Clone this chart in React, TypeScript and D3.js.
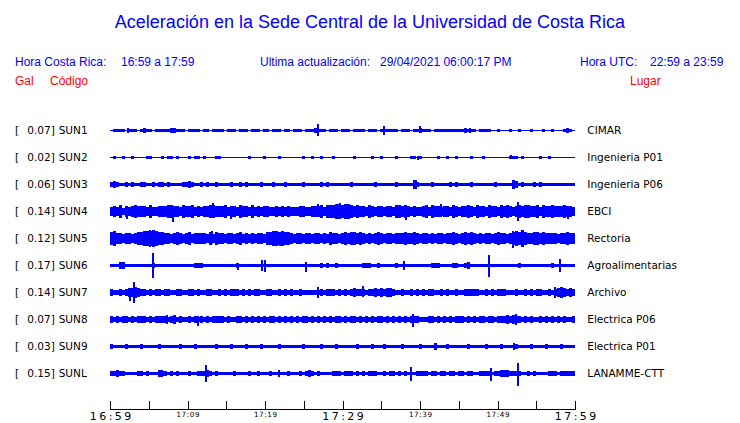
import React from "react";
import * as d3 from "d3";

// ---- data ----
const TITLE = "Aceleración en la Sede Central de la Universidad de Costa Rica";
const CODES = ["SUN1", "SUN2", "SUN3", "SUN4", "SUN5", "SUN6", "SUN7", "SUN8", "SUN9", "SUNL"];
const PLACES = ["CIMAR", "Ingenieria P01", "Ingenieria P06", "EBCI", "Rectoria", "Agroalimentarias", "Archivo", "Electrica P06", "Electrica P01", "LANAMME-CTT"];
const PEAKS = ["0.07", "0.02", "0.06", "0.14", "0.12", "0.17", "0.14", "0.07", "0.03", "0.15"];

// envelope half-amplitude (px units of trace) per time slice across 60 minutes
const ENVELOPES = [
  "0111101110121101111122111011110" + "1101111011101110111011011101101" + "1101112111011101110111101110111" + "1110111011211101111111111211101" + "1110010001001000100010010001210",
  "0100100100001100010110100010110" + "1000110000000001000010000100000" + "0010010010001000000100000100100" + "0010000110100000100100100001000" + "1000000001110100000100100000000",
  "2321121211221121221211112232112" + "1211211112112121111211121112111" + "1121111121211111112111111121111" + "1121111142111121111121211112111" + "1111211111431211121211111111111",
  "4546354565554644555665546556454" + "5566555645546554645455445454544" + "4554455564666776776565546545545" + "5466565454456465545546545565465" + "5465546565456566556465565556554",
  "6755455456677787665545654564555" + "5464655455456454545546677676654" + "5545545545465545656656545456545" + "5455565565455454554556545656545" + "4554565545676865566565555455655",
  "1113311111111121111111111111222" + "1111111111121111111111111111111" + "1111111121211211111111222112111" + "1121111111111122211112211231111" + "1111111111112111111111121111111",
  "3223234454332323323322332233232" + "2332232323332323233223322323232" + "2322222232333232323433323343434" + "4322322323232332232322322333332" + "2323233322232232323322323454343",
  "3232332323332323333234232232323" + "2323333232233232323232332323232" + "3233232323232332323323232323323" + "2323232333222332323232333232323" + "3233233343433232322323232323223",
  "2111121111211111211111121111211" + "1111211112111121111211111211111" + "1121111121111211111121111211121" + "1111211111211113111211111121111" + "1211112111121111211112111121111",
  "2232211112212111322121211121122" + "2321211111211112112111211111211" + "1212321211112221222121212221121" + "2212121112222122122122122122112" + "2221223332222112121111222122222",
];

// isolated peaks: [minute, up, down]
const SPIKES: number[][][] = [
  [[2.3, 2, 2], [26.8, 6, 5], [35.4, 4, 4], [40.0, 4, 2], [46.5, 2, 2]],
  [[4.8, 1, 1], [39.8, 1, 2], [51.8, 2, 1]],
  [[39.5, 4, 4], [52.0, 4, 4]],
  [[2.15, 4, 7], [8.09, 5, 10], [13.29, 8, 5], [15.6, 5, 7], [26.8, 7, 5], [29.7, 8, 6], [30.8, 7, 7], [38.15, 5, 8], [42.7, 7, 5], [52.6, 9, 9], [59.1, 5, 7]],
  [[5.16, 8, 8], [13.16, 7, 5], [21.9, 6, 7], [31.35, 6, 6], [52.0, 7, 9]],
  [[1.42, 3, 3], [5.59, 12, 12], [16.5, 2, 4], [19.6, 5, 5], [20.0, 5, 6], [25.3, 3, 6], [37.9, 4, 4], [48.9, 10, 11], [58.0, 6, 6]],
  [[2.58, 4, 8], [3.14, 10, 10], [26.8, 5, 5], [32.6, 6, 4], [57.4, 5, 5]],
  [[7.35, 4, 4], [11.35, 3, 6], [39.1, 5, 7], [52.4, 5, 5]],
  [[52.1, 3, 3]],
  [[6.7, 3, 3], [12.45, 8, 8], [21.8, 3, 3], [38.9, 6, 7], [49.2, 5, 7], [52.6, 10, 12]],
];

const TICK_MINUTES = [0, 5, 10, 15, 20, 25, 30, 35, 40, 45, 50, 55, 60];
const LABEL_MINUTES = [0, 10, 20, 30, 40, 50, 60];
const LABEL_TEXTS = ["16:59", "17:09", "17:19", "17:29", "17:39", "17:49", "17:59"];
const MAJOR_LABELS = ["16:59", "17:29", "17:59"];

const BLUE = "#0000ff";
const RED = "#ff0000";
const SANS = "'Liberation Sans', Arial, sans-serif";
const DEJA = "'DejaVu Sans', sans-serif";

export default function App() {
  const W = 740, H = 423;
  const x = d3.scaleLinear().domain([0, 60]).range([110, 575]);
  const y = d3.scalePoint<string>().domain(CODES).range([130, 373]);

  const traces = CODES.map((code, si) => {
    const base = (y(code) as number) + 0.5;
    const env = ENVELOPES[si].split("").map(Number);
    const n = env.length;
    const pts = d3.range(n + 1).map((i) => ({ t: (i * 60) / n, v: env[Math.min(i, n - 1)] }));
    const area = d3
      .area<{ t: number; v: number }>()
      .x((d) => x(d.t))
      .y0((d) => base + d.v + 0.5)
      .y1((d) => base - d.v - 0.5)
      .curve(d3.curveStepAfter);
    return (
      <g key={code}>
        <line x1={x(0)} x2={x(60)} y1={base} y2={base} stroke={BLUE} strokeWidth={1} />
        <path d={area(pts) || ""} fill={BLUE} shapeRendering="crispEdges" />
        {SPIKES[si].map((s, k) => (
          <rect
            key={k}
            x={Math.round(x(s[0])) - 1}
            width={2}
            y={base - s[1] - 0.5}
            height={s[1] + s[2] + 1}
            fill={BLUE}
            shapeRendering="crispEdges"
          />
        ))}
        <text x={15} y={base + 3.5} fontFamily={DEJA} fontSize={10.5} fill="#000">[</text>
        <text x={27.3} y={base + 3.5} fontFamily={DEJA} fontSize={10.5} fill="#000">{PEAKS[si] + "]"}</text>
        <text x={58.7} y={base + 3.5} fontFamily={DEJA} fontSize={10.5} fill="#000">{code}</text>
        <text x={587.3} y={base + 3.5} fontFamily={DEJA} fontSize={10.5} fill="#000">{PLACES[si]}</text>
      </g>
    );
  });

  const axisY = 409.5;

  return (
    <svg width={W} height={H} style={{ position: "absolute", left: 0, top: 0, background: "#fff" }}>
      <rect width={W} height={H} fill="#fff" />
      <text x={370} y={28} textAnchor="middle" fontFamily={SANS} fontSize={18} fill={BLUE}>{TITLE}</text>

      <text x={15} y={65.5} fontFamily={SANS} fontSize={12} fill={BLUE}>Hora Costa Rica:</text>
      <text x={121} y={65.5} fontFamily={SANS} fontSize={12} fill={BLUE}>16:59 a 17:59</text>
      <text x={260} y={65.5} fontFamily={SANS} fontSize={12} fill={BLUE}>Ultima actualización:</text>
      <text x={380} y={65.5} fontFamily={SANS} fontSize={12} fill={BLUE}>29/04/2021 06:00:17 PM</text>
      <text x={580} y={65.5} fontFamily={SANS} fontSize={12} fill={BLUE}>Hora UTC:</text>
      <text x={650} y={65.5} fontFamily={SANS} fontSize={12} fill={BLUE}>22:59 a 23:59</text>

      <text x={15} y={85} fontFamily={SANS} fontSize={12} fill={RED}>Gal</text>
      <text x={50} y={85} fontFamily={SANS} fontSize={12} fill={RED}>Código</text>
      <text x={630} y={85} fontFamily={SANS} fontSize={12} fill={RED}>Lugar</text>

      {traces}

      <g shapeRendering="crispEdges">
        <line x1={x(0)} x2={x(60) + 1} y1={axisY} y2={axisY} stroke="#000" strokeWidth={1} />
        {TICK_MINUTES.map((m) => (
          <line key={m} x1={Math.round(x(m)) + 0.5} x2={Math.round(x(m)) + 0.5} y1={axisY} y2={axisY - 9} stroke="#000" strokeWidth={1} />
        ))}
      </g>
      {LABEL_MINUTES.map((m, i) => {
        const major = MAJOR_LABELS.includes(LABEL_TEXTS[i]);
        const ls = major ? 2.4 : 0.6;
        return (
          <text
            key={m}
            x={x(m) + ls / 2 + 0.5}
            y={major ? 419.5 : 416.8}
            textAnchor="middle"
            fontFamily={DEJA}
            fontSize={major ? 11 : 7.2}
            letterSpacing={ls}
            fill="#000"
          >
            {LABEL_TEXTS[i]}
          </text>
        );
      })}
    </svg>
  );
}
